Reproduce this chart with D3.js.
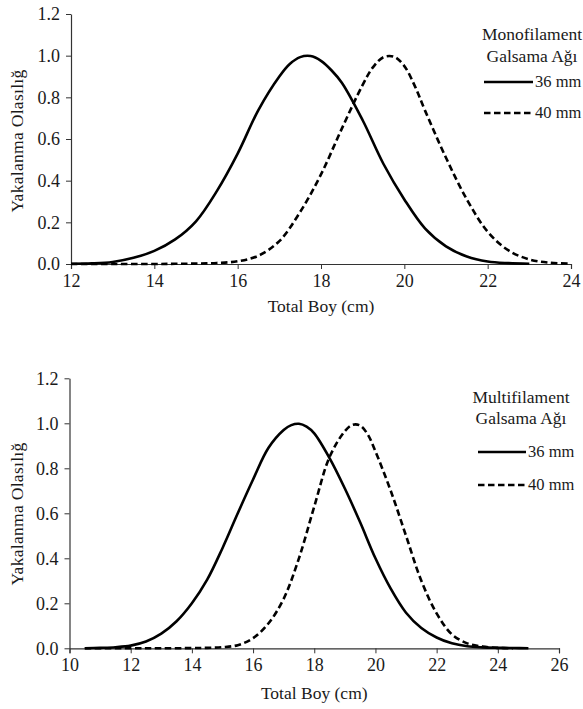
<!DOCTYPE html>
<html>
<head>
<meta charset="utf-8">
<script src="https://cdn.jsdelivr.net/npm/d3@7"></script>
<style>
  body { margin: 0; background: #fff; }
  svg { display: block; }
  svg text { font-family: 'Liberation Serif', 'Times New Roman', serif; }
</style>
</head>
<body>
<svg id="chart" width="583" height="709"></svg>
<script>
// ---- data ----
// Monofilament, 36 mm
const monoLen36  = [12, 12.5, 13, 13.5, 14, 14.5, 15, 15.5, 16, 16.5, 17, 17.25, 17.5, 17.75, 18, 18.25, 18.5, 19, 19.5, 20, 20.5, 21, 21.5, 22, 22.5, 23];
const monoProb36 = [0.001, 0.003, 0.01, 0.03, 0.063, 0.118, 0.205, 0.35, 0.53, 0.74, 0.90, 0.96, 0.993, 0.998, 0.975, 0.93, 0.87, 0.69, 0.48, 0.31, 0.17, 0.085, 0.036, 0.012, 0.004, 0.001];
// Monofilament, 40 mm
const monoLen40  = [12, 13, 14, 14.5, 15, 15.5, 16, 16.5, 17, 17.5, 18, 18.5, 19, 19.25, 19.5, 19.75, 20, 20.25, 20.5, 21, 21.5, 22, 22.5, 23, 23.5, 24];
const monoProb40 = [0, 0, 0, 0.001, 0.002, 0.005, 0.013, 0.04, 0.11, 0.25, 0.43, 0.65, 0.86, 0.945, 0.993, 0.995, 0.95, 0.855, 0.735, 0.51, 0.31, 0.155, 0.065, 0.022, 0.006, 0.002];
// Multifilament, 36 mm
const multiLen36  = [10.5, 11, 11.5, 12, 12.5, 13, 13.5, 14, 14.5, 15, 15.5, 16, 16.5, 17, 17.25, 17.5, 17.75, 18, 18.5, 19, 19.5, 20, 20.5, 21, 21.5, 22, 22.5, 23, 23.5, 24, 24.5, 25];
const multiProb36 = [0, 0.002, 0.005, 0.012, 0.03, 0.065, 0.12, 0.2, 0.305, 0.445, 0.60, 0.75, 0.89, 0.97, 0.992, 0.998, 0.985, 0.955, 0.845, 0.71, 0.56, 0.40, 0.265, 0.158, 0.09, 0.048, 0.022, 0.009, 0.004, 0.002, 0.001, 0];
// Multifilament, 40 mm
const multiLen40  = [10.5, 12, 13, 14, 14.5, 15, 15.5, 16, 16.5, 17, 17.5, 18, 18.5, 19, 19.25, 19.5, 19.75, 20, 20.5, 21, 21.5, 22, 22.5, 23, 23.5, 24, 24.5];
const multiProb40 = [0, 0, 0, 0.001, 0.002, 0.005, 0.014, 0.045, 0.11, 0.22, 0.40, 0.63, 0.85, 0.965, 0.993, 0.99, 0.95, 0.875, 0.70, 0.50, 0.30, 0.155, 0.062, 0.022, 0.008, 0.002, 0];

const yTicks = [0, 0.2, 0.4, 0.6, 0.8, 1.0, 1.2];
const monoXTicks = [12, 14, 16, 18, 20, 22, 24];
const multiXTicks = [10, 12, 14, 16, 18, 20, 22, 24, 26];
const meshLabels = ["36 mm", "40 mm"];
const monoTitle = ["Monofilament", "Galsama Ağı"];
const multiTitle = ["Multifilament", "Galsama Ağı"];

const svg = d3.select("#chart");
const ink = "#1a1a1a";
const serif = "'Liberation Serif', 'Times New Roman', serif";

function drawPanel(p) {
  const x = d3.scaleLinear().domain(p.xDomain).range(p.xRange);
  const y = d3.scaleLinear().domain([0, 1.2]).range(p.yRange);
  const g = svg.append("g");

  // axes
  const xAxis = g.append("g")
    .attr("transform", `translate(0,${p.yRange[0]})`)
    .call(d3.axisBottom(x).tickValues(p.xTicks).tickSize(5).tickSizeOuter(5).tickPadding(5).tickFormat(d3.format("d")));
  const yAxis = g.append("g")
    .attr("transform", `translate(${p.xRange[0]},0)`)
    .call(d3.axisLeft(y).tickValues(yTicks).tickSize(5).tickSizeOuter(0).tickPadding(6).tickFormat(d3.format(".1f")));
  [xAxis, yAxis].forEach(a => {
    a.attr("font-family", serif).attr("font-size", 18);
    a.select(".domain").attr("stroke", "#333").attr("stroke-width", 1.2);
    a.selectAll(".tick line").attr("stroke", "#333");
    a.selectAll(".tick text").attr("fill", ink);
  });

  // curves
  const line = d3.line()
    .x(d => x(d[0])).y(d => y(d[1]))
    .curve(d3.curveCatmullRom.alpha(0.5));
  p.series.forEach((s, i) => {
    g.append("path")
      .datum(d3.zip(s.len, s.prob))
      .attr("fill", "none")
      .attr("stroke", "#000")
      .attr("stroke-width", 2.6)
      .attr("stroke-dasharray", i === 1 ? "6.5,3.5" : null)
      .attr("d", line);
  });

  // axis titles
  g.append("text")
    .attr("x", (p.xRange[0] + p.xRange[1]) / 2)
    .attr("y", p.xLabelY)
    .attr("text-anchor", "middle")
    .attr("fill", ink)
    .style("font-size", "17.5px")
    .text("Total Boy (cm)");
  g.append("text")
    .attr("transform", `translate(23,${p.yLabelY}) rotate(-90)`)
    .attr("text-anchor", "middle")
    .attr("fill", ink)
    .style("font-size", "17.5px")
    .style("letter-spacing", "0.3px")
    .text("Yakalanma Olasılığ");

  // legend
  const lg = g.append("g");
  p.title.forEach((t, i) => {
    lg.append("text")
      .attr("x", p.legend.cx)
      .attr("y", p.legend.titleY[i])
      .attr("text-anchor", "middle")
      .attr("fill", ink)
      .style("font-size", "17.5px")
      .text(t);
  });
  meshLabels.forEach((t, i) => {
    const ly = p.legend.lineY[i];
    lg.append("line")
      .attr("x1", p.legend.x1).attr("x2", p.legend.x2)
      .attr("y1", ly).attr("y2", ly)
      .attr("stroke", "#000").attr("stroke-width", 2.6)
      .attr("stroke-dasharray", i === 1 ? "6.5,3.5" : null);
    lg.append("text")
      .attr("x", p.legend.x2 + 2)
      .attr("y", ly + 5)
      .attr("fill", ink)
      .style("font-size", "16.5px")
      .text(t);
  });
}

drawPanel({
  xDomain: [12, 24], xRange: [71, 571], yRange: [264, 14],
  xTicks: monoXTicks,
  series: [{len: monoLen36, prob: monoProb36}, {len: monoLen40, prob: monoProb40}],
  xLabelY: 312, yLabelY: 141,
  title: monoTitle,
  legend: {cx: 532, titleY: [40, 62], lineY: [82, 113], x1: 484, x2: 533}
});

drawPanel({
  xDomain: [10, 26], xRange: [69.5, 559], yRange: [648.3, 378.3],
  xTicks: multiXTicks,
  series: [{len: multiLen36, prob: multiProb36}, {len: multiLen40, prob: multiProb40}],
  xLabelY: 699, yLabelY: 514,
  title: multiTitle,
  legend: {cx: 521, titleY: [403, 424], lineY: [452, 485], x1: 478, x2: 526}
});
</script>
</body>
</html>
